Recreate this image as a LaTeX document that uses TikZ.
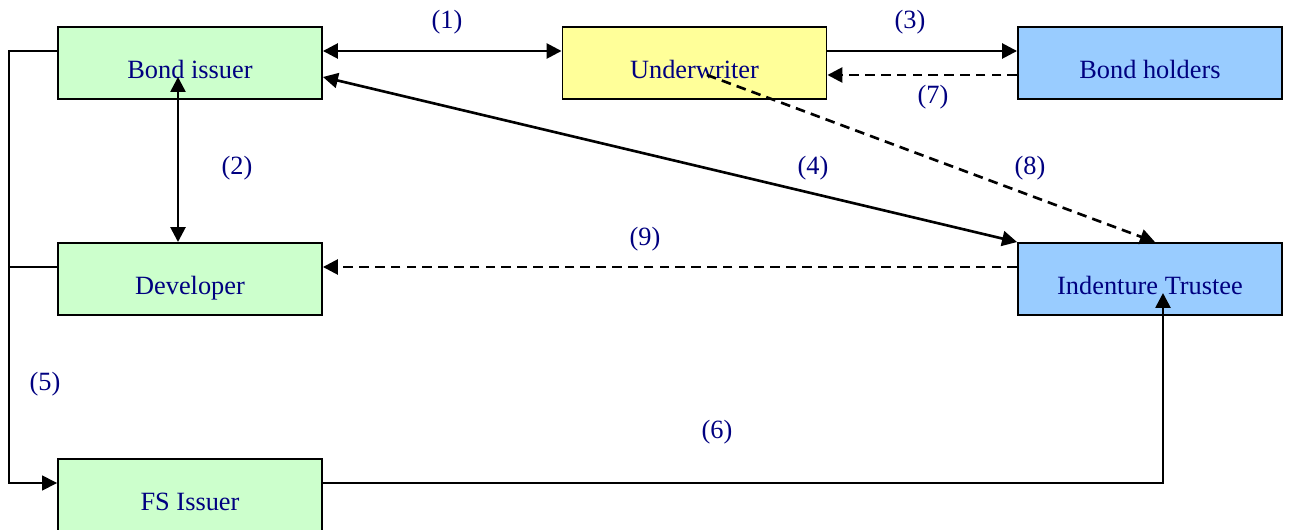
\documentclass[tikz,border=0pt]{standalone}
\usepackage{fontspec}
\setmainfont{Liberation Serif}
\usetikzlibrary{arrows.meta}
\definecolor{boxgreen}{HTML}{CCFFCC}
\definecolor{boxyellow}{HTML}{FFFF99}
\definecolor{boxblue}{HTML}{99CCFF}
\definecolor{navytext}{HTML}{000080}
\begin{document}
\begin{tikzpicture}[x=0.02cm, y=-0.02cm,
    party/.style={draw, line width=1.1pt, minimum width=5.28cm, minimum height=1.44cm,
        text height=0.62cm, text depth=0cm, inner sep=0pt, text=navytext,
        font=\fontsize{15}{18}\selectfont},
    num/.style={text=navytext, font=\fontsize{15}{18}\selectfont},
    flow/.style={line width=1.5pt, -{Triangle[length=0.3cm, width=0.3cm]}},
    both/.style={line width=1.5pt, {Triangle[length=0.3cm, width=0.3cm]}-{Triangle[length=0.3cm, width=0.3cm]}},
    dash line/.style={dash pattern=on 5.5pt off 3.5pt}]
    \clip (0,0) rectangle (1289,530);
    %
    \node[party, fill=boxgreen] (bi) at (190,63) {Bond issuer};
    \node[party, fill=boxyellow] (uw) at (694.5,63) {Underwriter};
    \node[party, fill=boxblue] (bh) at (1150,63) {Bond holders};
    \node[party, fill=boxgreen] (dev) at (190,279) {Developer};
    \node[party, fill=boxblue] (it) at (1150,279) {Indenture Trustee};
    \node[party, fill=boxgreen] (fs) at (190,495) {FS Issuer};
    %
    \draw[both] ([yshift=0.24cm]bi.east) -- ([yshift=0.24cm]uw.west);
    \draw[flow] ([yshift=0.24cm]uw.east) -- ([yshift=0.24cm]bh.west);
    \draw[flow, dash line] ([yshift=-0.24cm]bh.west) -- ([yshift=-0.24cm]uw.east);
    \draw[both] ([xshift=-0.24cm, yshift=-0.28cm]bi.center) -- ([xshift=-0.24cm]dev.north);
    \draw[both] ([yshift=-0.28cm]bi.east) -- (it.north west);
    \draw[flow, dash line] ([xshift=0.25cm, yshift=-0.24cm]uw.center) -- ([xshift=0.1cm]it.north);
    \draw[flow, dash line] ([yshift=0.24cm]it.west) -- ([yshift=0.24cm]dev.east);
    %
    \draw[line width=0.8pt, -{Triangle[length=0.3cm, width=0.3cm]}]
        ([yshift=0.24cm]bi.west) -- ++(-48,0) |- ([yshift=0.24cm]fs.west);
    \draw[line width=0.8pt] ([yshift=0.24cm]dev.west) -- ++(-48,0);
    \draw[flow] ([yshift=0.24cm]fs.east) -| ([xshift=0.26cm, yshift=-0.28cm]it.center);
    %
    \node[num] (n1) at (447,22) {(1)};
    \node[num] (n2) at (237,168) {(2)};
    \node[num] (n3) at (910,22) {(3)};
    \node[num] (n4) at (813,168) {(4)};
    \node[num] (n5) at (45,384) {(5)};
    \node[num] (n6) at (717,432) {(6)};
    \node[num] (n7) at (933,97) {(7)};
    \node[num] (n8) at (1030,168) {(8)};
    \node[num] (n9) at (645,239) {(9)};
\end{tikzpicture}
\end{document}
